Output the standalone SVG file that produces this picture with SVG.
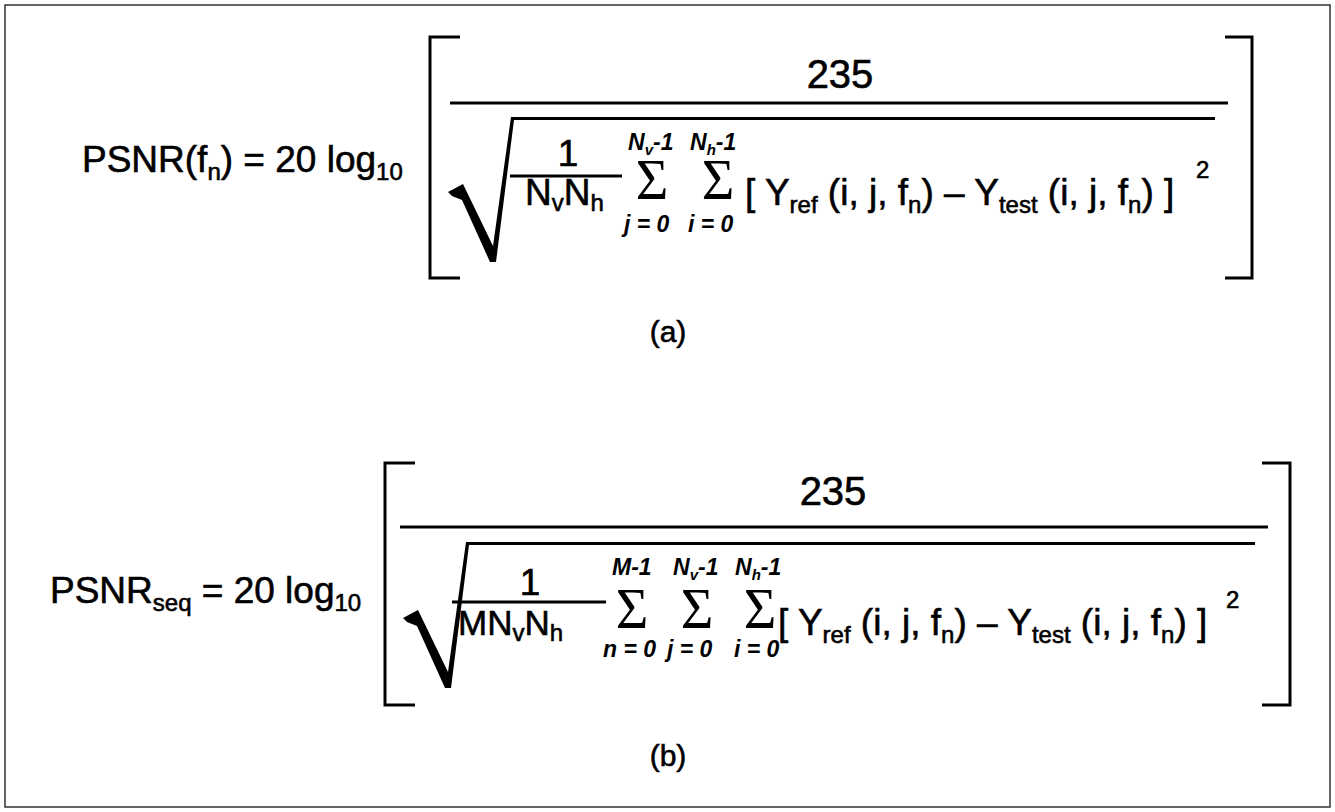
<svg xmlns="http://www.w3.org/2000/svg" width="1335" height="812" viewBox="0 0 1335 812">
<style>
.t{font-family:"Liberation Sans",Arial,sans-serif;font-size:37px;fill:#000;stroke:#000;stroke-width:0.6}
.s{font-size:24px}
.lim{font-family:"Liberation Sans",Arial,sans-serif;font-size:23px;font-style:italic;font-weight:bold;fill:#000}
.sig{font-family:"Liberation Serif","Times New Roman",serif;font-size:56px;fill:#000}
.ln{stroke:#000;stroke-width:3;fill:none}
</style>
<rect x="5" y="5" width="1325" height="802" fill="#fff" stroke="#333" stroke-width="1.5"/>
<g id="formula-a">
<text class="t" x="82" y="172">PSNR(f<tspan class="s" dy="8">n</tspan><tspan dy="-8">)  = 20 log</tspan><tspan class="s" dy="8">10</tspan></text>
<path class="ln" d="M460,37 H430 V278 H460 M1225,37 H1252 V278 H1225"/>
<line class="ln" x1="450" y1="103" x2="1228" y2="103"/>
<text class="t" x="840" y="88" text-anchor="middle" style="font-size:40px">235</text>
<path d="M448,192 L463,184 L493,246 L511,117 L1215,117 L1215,120 L514,120 L496,262 L490,262 L462,200 L452,196 Z" fill="#000"/>
<text class="t" x="568" y="166" text-anchor="middle">1</text>
<line class="ln" x1="510" y1="176" x2="622" y2="176"/>
<text class="t" x="525" y="205">N<tspan class="s" dy="6">v</tspan><tspan dy="-6">N</tspan><tspan class="s" dy="6">h</tspan></text>
<text class="sig" x="652" y="199" text-anchor="middle">Σ</text>
<text class="sig" x="718" y="199" text-anchor="middle">Σ</text>
<text class="lim" x="628" y="150">N<tspan font-size="15" dy="5">v</tspan><tspan dy="-5">-1</tspan></text>
<text class="lim" x="690" y="150">N<tspan font-size="15" dy="5">h</tspan><tspan dy="-5">-1</tspan></text>
<text class="lim" x="624" y="232">j = 0</text>
<text class="lim" x="688" y="232">i = 0</text>
<text class="t" x="745" y="205">[ Y<tspan class="s" dy="8">ref</tspan><tspan dy="-8"> (i, j, f</tspan><tspan class="s" dy="8">n</tspan><tspan dy="-8">) – Y</tspan><tspan class="s" dy="8">test</tspan><tspan dy="-8"> (i, j, f</tspan><tspan class="s" dy="8">n</tspan><tspan dy="-8">) ]</tspan></text>
<text class="t s" x="1196" y="178">2</text>
<text class="t" x="668" y="342" text-anchor="middle" style="font-size:30px">(a)</text>
</g>
<g id="formula-b">
<text class="t" x="50" y="603">PSNR<tspan class="s" dy="8">seq</tspan><tspan dy="-8"> = 20 log</tspan><tspan class="s" dy="8">10</tspan></text>
<path class="ln" d="M415,463 H385 V705 H415 M1262,463 H1290 V705 H1262"/>
<line class="ln" x1="400" y1="527" x2="1268" y2="527"/>
<text class="t" x="833" y="505" text-anchor="middle" style="font-size:40px">235</text>
<path d="M403,618 L418,610 L448,672 L466,542 L1255,542 L1255,545 L469,545 L451,688 L445,688 L417,626 L407,622 Z" fill="#000"/>
<text class="t" x="530" y="595" text-anchor="middle">1</text>
<line class="ln" x1="452" y1="602" x2="606" y2="602"/>
<text class="t" x="458" y="635" style="font-size:35px">MN<tspan class="s" dy="6">v</tspan><tspan dy="-6">N</tspan><tspan class="s" dy="6">h</tspan></text>
<text class="sig" x="632" y="628" text-anchor="middle">Σ</text>
<text class="sig" x="697" y="628" text-anchor="middle">Σ</text>
<text class="sig" x="760" y="628" text-anchor="middle">Σ</text>
<text class="lim" x="612" y="575">M-1</text>
<text class="lim" x="673" y="575">N<tspan font-size="15" dy="5">v</tspan><tspan dy="-5">-1</tspan></text>
<text class="lim" x="735" y="575">N<tspan font-size="15" dy="5">h</tspan><tspan dy="-5">-1</tspan></text>
<text class="lim" x="603" y="657">n = 0</text>
<text class="lim" x="667" y="657">j = 0</text>
<text class="lim" x="734" y="657">i = 0</text>
<text class="t" x="778" y="635">[ Y<tspan class="s" dy="8">ref</tspan><tspan dy="-8"> (i, j, f</tspan><tspan class="s" dy="8">n</tspan><tspan dy="-8">) – Y</tspan><tspan class="s" dy="8">test</tspan><tspan dy="-8"> (i, j, f</tspan><tspan class="s" dy="8">n</tspan><tspan dy="-8">) ]</tspan></text>
<text class="t s" x="1226" y="608">2</text>
<text class="t" x="668" y="766" text-anchor="middle" style="font-size:30px">(b)</text>
</g>
</svg>
